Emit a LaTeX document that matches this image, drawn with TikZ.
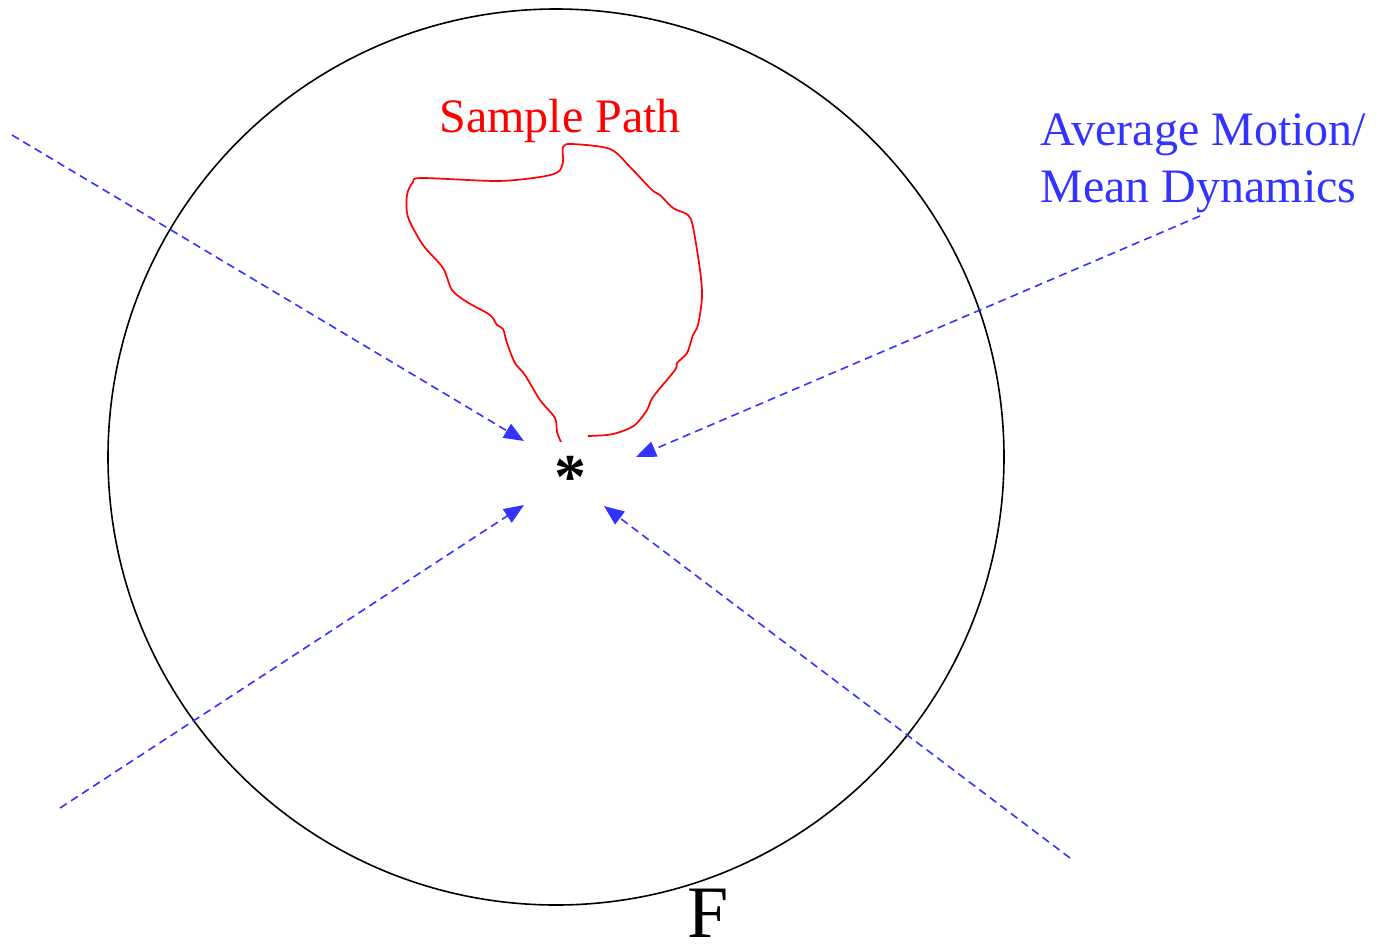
\documentclass[tikz,border=0pt]{standalone}
\usepackage{fontspec}
\setmainfont{Liberation Serif}
\usetikzlibrary{arrows.meta}
\definecolor{mblue}{HTML}{3333FF}
\tikzset{
  mean/.style={draw=mblue, line width=0.8pt, dash pattern=on 4pt off 2.6pt,
    -{Triangle[length=10pt,width=8pt,fill=mblue]}},
  lbl/.style={inner sep=0pt, font=\fontsize{24}{29}\selectfont},
}
\begin{document}
\begin{tikzpicture}[x=0.5pt,y=-0.5pt]
\useasboundingbox (0,0) rectangle (1380,943);
% domain F
\node[draw, circle, line width=0.8pt, minimum size=448pt, inner sep=0pt] (dom) at (556,457) {};
\node[inner sep=0pt, anchor=base, font=\fontsize{37}{40}\selectfont] (F) at (708,937) {F};
% equilibrium
\node[inner sep=0pt, font=\fontsize{32}{32}\selectfont\bfseries] (star) at (570,477) {*};
% labels
\node[lbl, text=red, anchor=base] (sp) at (560,132) {Sample Path};
\node[lbl, text=mblue, anchor=base west, align=left] (am) at (1040,145) {Average Motion/};
\node[lbl, text=mblue, anchor=base west] (md) at (1040,202) {Mean Dynamics};
% arrow coordinates
\coordinate (a1s) at (12,135);   \coordinate (a1e) at (524,441);
\coordinate (a2s) at (1200,216); \coordinate (a2e) at (636,457);
\coordinate (a3s) at (60,808);   \coordinate (a3e) at (524,505);
\coordinate (a4s) at (1070,858); \coordinate (a4e) at (604,506);
\draw[mean] (a1s) -- (a1e);
\draw[mean] (a2s) -- (a2e);
\draw[mean] (a3s) -- (a3e);
\draw[mean] (a4s) -- (a4e);
% sample path
\draw[red, line width=0.85pt] plot[smooth, tension=0.5] coordinates {
(561,442) (557,432) (555,418) (540,400) (525,375) (515,363) (507,343) (503,329)
(497,325) (490,315) (467,302) (452,290) (443,268) (423,245) (408,217) (407,195)
(413,182) (422,178) (497,181) (540,177) (558,172) (563,162) (563,147) (572,144)
(610,149) (630,167) (652,190) (660,195) (673,208) (688,215) (693,227) (700,270)
(702,297) (698,325) (693,335) (687,353) (677,363) (675,370) (653,397) (647,410)
(635,425) (620,432) (607,435) (588,436)};
\end{tikzpicture}
\end{document}
